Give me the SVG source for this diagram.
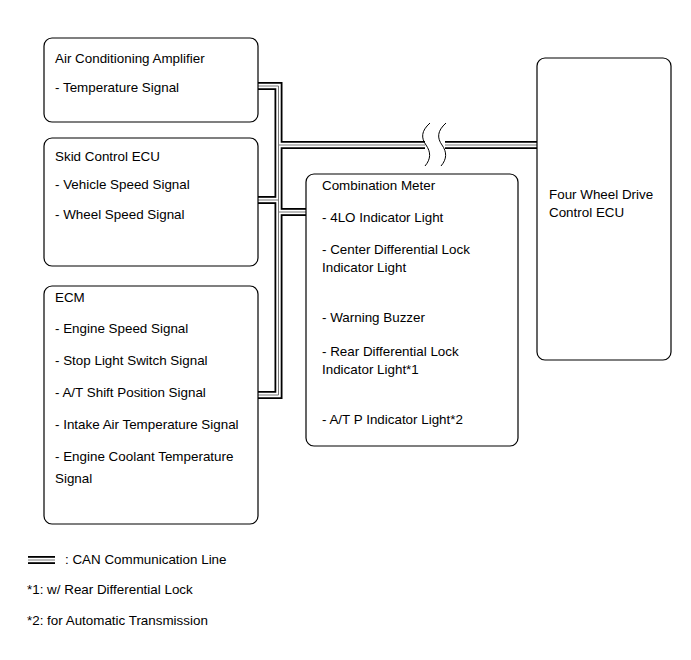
<svg xmlns="http://www.w3.org/2000/svg" width="691" height="660" viewBox="0 0 691 660">
<style>
.box{fill:#fff;stroke:#000;stroke-width:1.2}
text{font-family:"Liberation Sans",Arial,sans-serif;font-size:13.4px;fill:#000}
.b1{fill:none;stroke:#000;stroke-width:8}
.b2{fill:none;stroke:#fff;stroke-width:4.4}
.b3{fill:none;stroke:#777;stroke-width:1}
.brk{fill:none;stroke:#000;stroke-width:1}
</style>
<rect width="691" height="660" fill="#fff"/>
<g id="connectors">
<g class="b1">
<path d="M258 86 H278.5 V395 H258"/>
<path d="M278.5 145 H425 M445 145 H537"/>
<path d="M278.5 200 H258"/>
<path d="M278.5 212 H306"/>
</g>
<g class="b2">
<path d="M257 86 H278.5 V395 H257"/>
<path d="M278.5 145 H425 M445 145 H538"/>
<path d="M278.5 200 H257"/>
<path d="M278.5 212 H307"/>
</g>
<g class="b3">
<path d="M257 86 H278.5 V395 H257"/>
<path d="M278.5 145 H425 M445 145 H538"/>
<path d="M278.5 200 H257"/>
<path d="M278.5 212 H307"/>
</g>
<path class="brk" d="M430 123 C421 131 421 138 426 145 C431 152 431 159 425 166"/>
<path class="brk" d="M446 123 C437 131 437 138 442 145 C447 152 447 159 441 166"/>
</g>
<g id="ac-amp">
<rect class="box" x="44" y="38" width="214" height="84" rx="8"/>
<text x="55" y="63">Air Conditioning Amplifier</text>
<text x="55" y="92">- Temperature Signal</text>
</g>
<g id="skid-ecu">
<rect class="box" x="44" y="138" width="214" height="128" rx="8"/>
<text x="55" y="161">Skid Control ECU</text>
<text x="55" y="189">- Vehicle Speed Signal</text>
<text x="55" y="219">- Wheel Speed Signal</text>
</g>
<g id="ecm">
<rect class="box" x="44" y="286" width="214" height="238" rx="8"/>
<text x="55" y="302">ECM</text>
<text x="55" y="333">- Engine Speed Signal</text>
<text x="55" y="365">- Stop Light Switch Signal</text>
<text x="55" y="397">- A/T Shift Position Signal</text>
<text x="55" y="429">- Intake Air Temperature Signal</text>
<text x="55" y="461">- Engine Coolant Temperature</text>
<text x="55" y="483">Signal</text>
</g>
<g id="combination-meter">
<rect class="box" x="306" y="174" width="212" height="272" rx="8"/>
<text x="322" y="190">Combination Meter</text>
<text x="322" y="222">- 4LO Indicator Light</text>
<text x="322" y="254">- Center Differential Lock</text>
<text x="322" y="272">Indicator Light</text>
<text x="322" y="322">- Warning Buzzer</text>
<text x="322" y="356">- Rear Differential Lock</text>
<text x="322" y="374">Indicator Light*1</text>
<text x="322" y="424">- A/T P Indicator Light*2</text>
</g>
<g id="four-wd-ecu">
<rect class="box" x="537" y="58" width="134" height="302" rx="8"/>
<text x="549" y="199">Four Wheel Drive</text>
<text x="549" y="217">Control ECU</text>
</g>
<g id="legend">
<g>
<path class="b1" d="M28 560 H55"/>
<path class="b2" d="M28 560 H55"/>
<path class="b3" d="M28 560 H55"/>
</g>
<text x="65" y="564">: CAN Communication Line</text>
<text x="27" y="594">*1: w/ Rear Differential Lock</text>
<text x="27" y="625">*2: for Automatic Transmission</text>
</g>
</svg>
